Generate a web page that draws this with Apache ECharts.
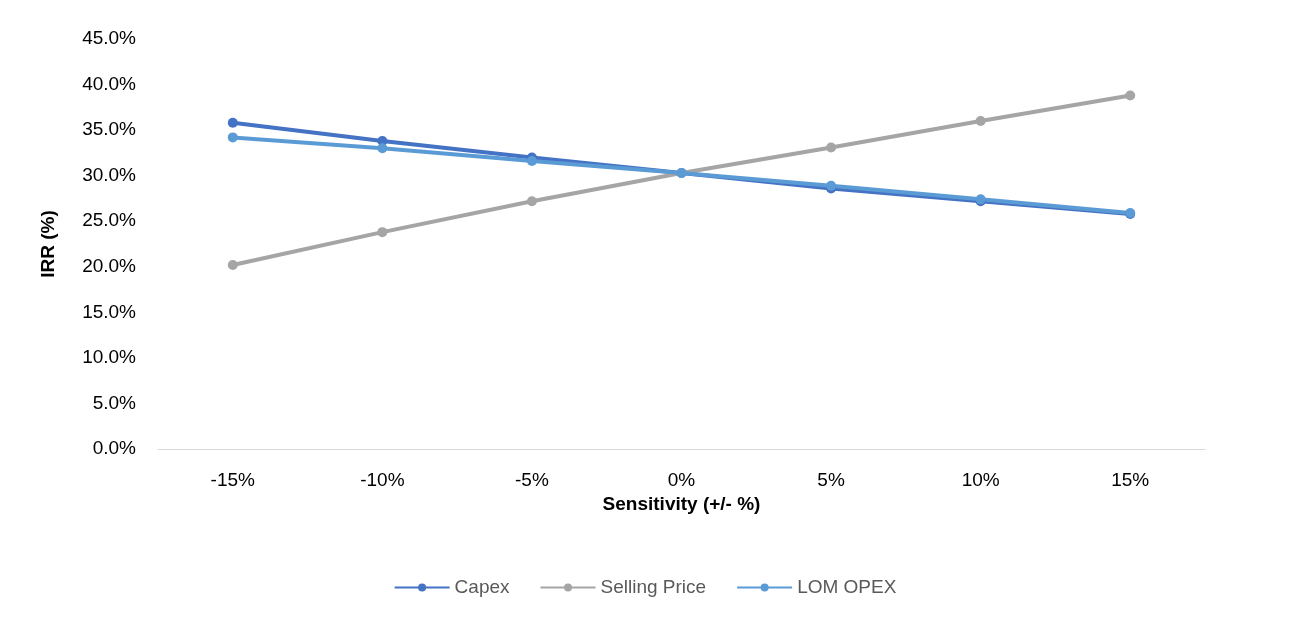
<!DOCTYPE html>
<html>
<head>
<meta charset="utf-8">
<script src="https://cdn.jsdelivr.net/npm/echarts@6/dist/echarts.min.js"></script>
</head>
<body style="margin:0;background:#fff">
<div id="main" style="width:1290px;height:630px"></div>
<script>
var categories = ['-15%', '-10%', '-5%', '0%', '5%', '10%', '15%'];
var capex = [35.8, 33.8, 32.0, 30.3, 28.6, 27.2, 25.8];
var sellingPrice = [20.2, 23.8, 27.2, 30.3, 33.1, 36.0, 38.8];
var lomOpex = [34.2, 33.0, 31.6, 30.3, 28.9, 27.4, 25.9];

var font = 'Liberation Sans, Arial, sans-serif';
function mk(name, data, color) {
  return {
    name: name, type: 'line', data: data, symbol: 'circle', symbolSize: 10,
    lineStyle: {width: 4, color: color}, itemStyle: {color: color}
  };
}
var chart = echarts.init(document.getElementById('main'));
chart.setOption({
  animation: false,
  textStyle: {fontFamily: font},
  grid: {left: 158, right: 85, top: 39, bottom: 181},
  legend: {
    bottom: 28, left: 'center', itemWidth: 55, itemHeight: 10, itemGap: 30,
    textStyle: {fontSize: 19, color: '#595959'},
    data: ['Capex', 'Selling Price', 'LOM OPEX']
  },
  xAxis: {
    type: 'category', data: categories,
    name: 'Sensitivity (+/- %)', nameLocation: 'middle', nameGap: 45,
    nameTextStyle: {fontSize: 19, fontWeight: 'bold', color: '#000'},
    axisLine: {lineStyle: {color: '#d9d9d9'}}, axisTick: {show: false},
    axisLabel: {fontSize: 19, color: '#000', margin: 22}
  },
  yAxis: {
    type: 'value', min: 0, max: 45, interval: 5,
    name: 'IRR (%)', nameLocation: 'middle', nameGap: 100,
    nameTextStyle: {fontSize: 19, fontWeight: 'bold', color: '#000'},
    splitLine: {show: false}, axisLine: {show: false}, axisTick: {show: false},
    axisLabel: {fontSize: 19, color: '#000', margin: 22, formatter: function (v) { return v.toFixed(1) + '%'; }}
  },
  series: [
    mk('Capex', capex, '#4472C4'),
    mk('Selling Price', sellingPrice, '#A5A5A5'),
    mk('LOM OPEX', lomOpex, '#5B9BD5')
  ]
});
</script>
</body>
</html>
